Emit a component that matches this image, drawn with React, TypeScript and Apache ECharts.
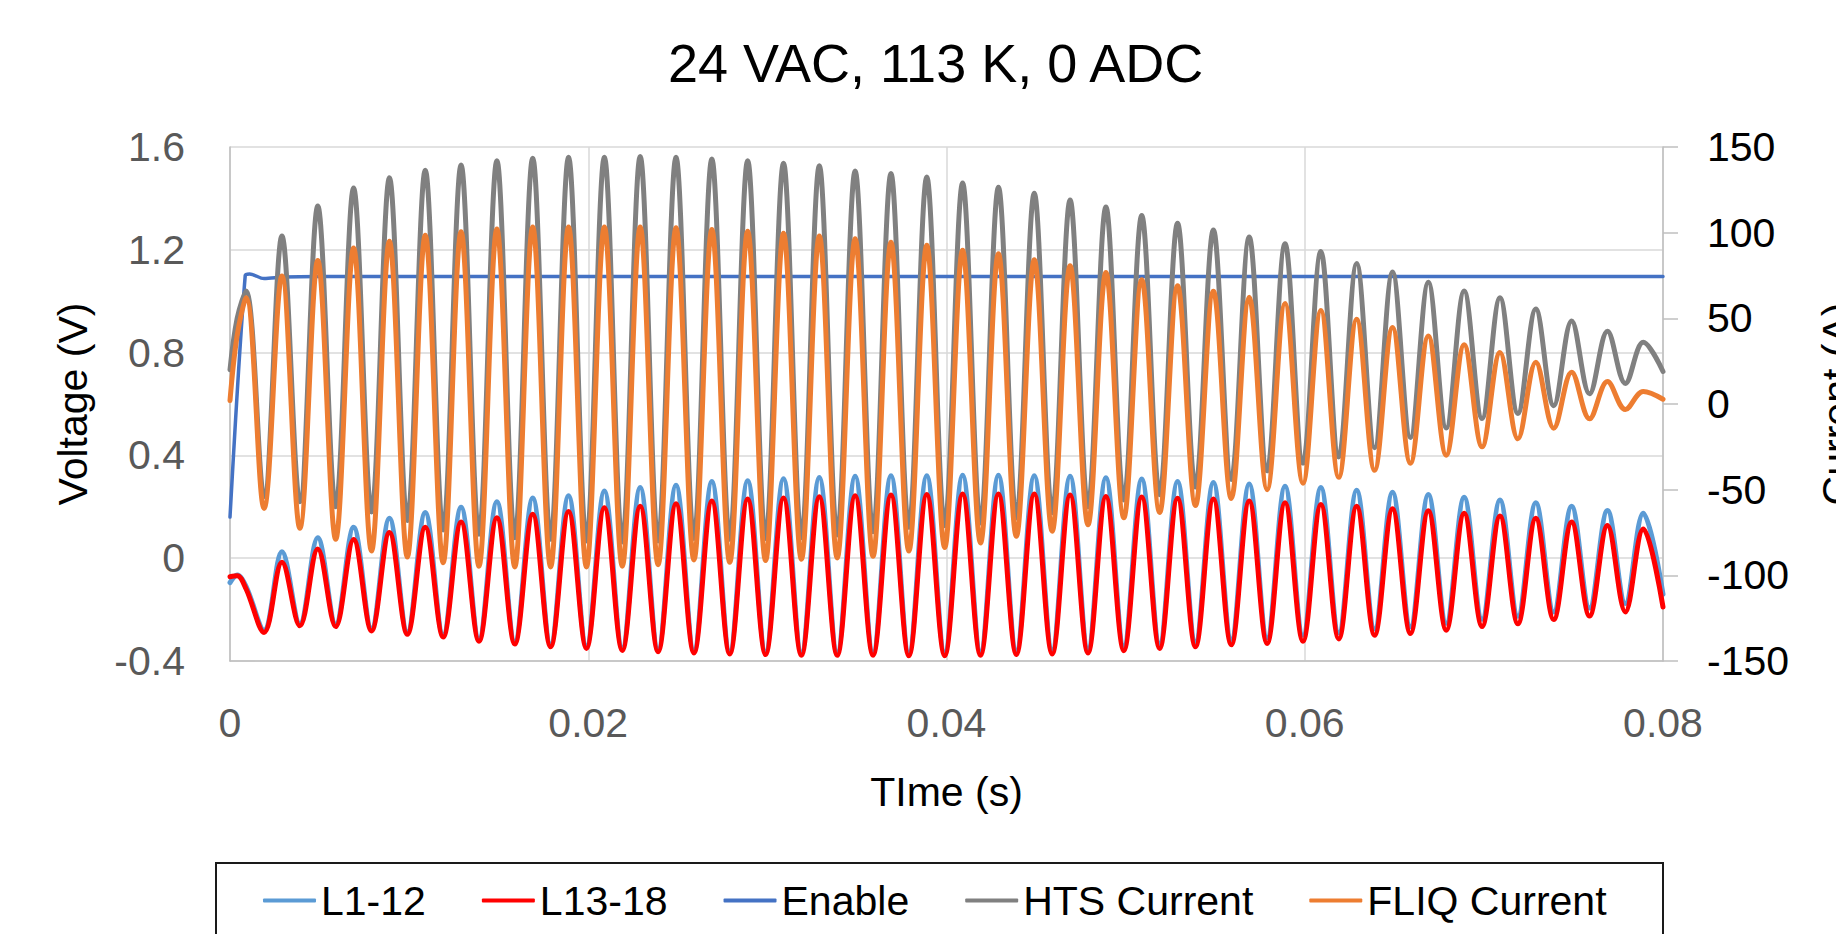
import React, { useEffect, useRef } from 'react';
import * as echarts from 'echarts';

const FONT = "'Liberation Sans', Arial, sans-serif";

const TITLE = '24 VAC, 113 K, 0 ADC';
const SERIES_NAMES = ['L1-12', 'L13-18', 'Enable', 'HTS Current', 'FLIQ Current'];
const COLORS = ['#5B9BD5', '#FF0000', '#4472C4', '#808080', '#ED7D31'];

// time stamps (s): start, then alternating peak / trough instants, then end
const TIME = [
  0, 0.0004, 0.0009, 0.0019, 0.0029, 0.0039, 0.0049, 0.0059, 0.0069, 0.0079, 0.0089, 0.0099,
  0.0109, 0.0119, 0.0129, 0.0139, 0.0149, 0.0159, 0.0169, 0.0179, 0.0189, 0.0199, 0.0209, 0.0219,
  0.0229, 0.0239, 0.0249, 0.0259, 0.0269, 0.0279, 0.0289, 0.0299, 0.0309, 0.0319, 0.0329, 0.0339,
  0.0349, 0.0359, 0.0369, 0.0379, 0.0389, 0.0399, 0.0409, 0.0419, 0.0429, 0.0439, 0.0449, 0.0459,
  0.0469, 0.0479, 0.0489, 0.0499, 0.0509, 0.0519, 0.0529, 0.0539, 0.0549, 0.0559, 0.0569, 0.0579,
  0.0589, 0.0599, 0.0609, 0.0619, 0.0629, 0.0639, 0.0649, 0.0659, 0.0669, 0.0679, 0.0689, 0.0699,
  0.0709, 0.0719, 0.0729, 0.0739, 0.0749, 0.0759, 0.0769, 0.0779, 0.0789, 0.08,
];

// L1-12 voltage (V)
const L1_12 = [
  -0.095, -0.065, -0.11, -0.28, 0.025, -0.255, 0.08, -0.257, 0.12, -0.274, 0.155, -0.287,
  0.178, -0.298, 0.198, -0.313, 0.22, -0.324, 0.234, -0.335, 0.243, -0.341, 0.261, -0.349,
  0.275, -0.354, 0.284, -0.358, 0.298, -0.362, 0.301, -0.364, 0.309, -0.366, 0.314, -0.366,
  0.319, -0.366, 0.321, -0.367, 0.321, -0.366, 0.323, -0.363, 0.323, -0.359, 0.321, -0.356,
  0.319, -0.351, 0.313, -0.341, 0.308, -0.332, 0.298, -0.325, 0.295, -0.316, 0.289, -0.31,
  0.28, -0.3, 0.275, -0.29, 0.264, -0.275, 0.257, -0.267, 0.248, -0.253, 0.237, -0.238,
  0.226, -0.226, 0.216, -0.209, 0.202, -0.194, 0.186, -0.176, 0.175, -0.14,
];

// L13-18 voltage (V)
const L13_18 = [
  -0.072, -0.068, -0.12, -0.289, -0.016, -0.263, 0.036, -0.266, 0.073, -0.283, 0.1, -0.296,
  0.12, -0.307, 0.141, -0.323, 0.157, -0.334, 0.171, -0.345, 0.182, -0.351, 0.196, -0.359,
  0.202, -0.364, 0.212, -0.369, 0.223, -0.373, 0.23, -0.375, 0.234, -0.378, 0.239, -0.378,
  0.243, -0.378, 0.246, -0.38, 0.248, -0.38, 0.25, -0.378, 0.25, -0.375, 0.25, -0.373,
  0.246, -0.369, 0.24, -0.36, 0.238, -0.351, 0.233, -0.345, 0.23, -0.337, 0.223, -0.332,
  0.216, -0.323, 0.209, -0.314, 0.202, -0.3, 0.192, -0.293, 0.185, -0.28, 0.175, -0.266,
  0.164, -0.255, 0.155, -0.239, 0.141, -0.225, 0.127, -0.209, 0.114, -0.19,
];

// HTS current (A)
const HTS = [
  20, 50, 66, -54, 98, -57, 115.5, -60, 126, -63, 132, -68,
  136.5, -73.5, 139.5, -76, 142, -78, 143.5, -79, 144, -80, 144, -80.5,
  144.5, -80, 144, -78.5, 143, -79, 142, -78.5, 140.5, -78, 139, -76.5,
  136, -74.5, 134.5, -72, 132.5, -71, 129, -69.5, 126.5, -66.5, 123, -63.5,
  119, -60, 115, -56, 110, -53, 105.5, -48.5, 101.5, -44, 97.5, -39,
  93.5, -34.5, 89, -31, 82, -25.5, 77, -19.5, 71, -14, 66, -8.5,
  62, -5.5, 55.5, -1, 48.5, 6, 42.5, 12, 36, 19,
];

// FLIQ current (A)
const FLIQ = [
  2, 40, 62, -61, 74.7, -72.5, 83.8, -79, 91, -85.8, 95, -89.3,
  98.5, -92.6, 100.6, -94.7, 102.2, -95.1, 103.3, -95.1, 103.3, -95.1, 103.3, -94.7,
  103.3, -93.8, 102.8, -91, 101.8, -92.4, 100.8, -91.4, 99.6, -90.6, 98.1, -89.9,
  96.5, -88.9, 94.4, -85.8, 92.6, -83.8, 89.7, -81.1, 87.7, -77.2, 84.2, -74.2,
  80.7, -70.5, 76.8, -66.4, 72.5, -63.3, 69, -59.2, 65.8, -55.1, 62.3, -50,
  58.6, -46.3, 54.5, -42.8, 49.4, -38.7, 44.7, -34.6, 39.7, -29.9, 34.6, -25,
  30.1, -20.3, 24.4, -14.1, 18.6, -8.6, 13.1, -3.2, 7.3, 2.8,
];

// Enable voltage (V)
const ENABLE_TIME = [0, 0.00085, 0.0011, 0.0019, 0.003, 0.005, 0.08];
const ENABLE = [0.16, 1.1, 1.106, 1.088, 1.094, 1.096, 1.096];

const X_TICKS = { min: 0, max: 0.08, interval: 0.02 };
const Y_LEFT = { min: -0.4, max: 1.6, interval: 0.4 };
const Y_RIGHT = { min: -150, max: 150, interval: 50 };

const pairs = (t: number[], v: number[]) => t.map((x, i) => [x, v[i]]);

export default function App() {
  const ref = useRef<HTMLDivElement>(null);
  useEffect(() => {
    const chart = echarts.init(ref.current!, null, { renderer: 'svg' });
    const waveSeries = (name: string, color: string, data: number[][], yAxisIndex: number, width: number) => ({
      name,
      type: 'line',
      data,
      yAxisIndex,
      smooth: 0.36,
      symbol: 'none',
      showSymbol: false,
      lineStyle: { color, width, cap: 'round', join: 'round' },
      itemStyle: { color },
      z: 2,
    });
    chart.setOption({
      animation: false,
      backgroundColor: '#ffffff',
      title: {
        text: TITLE,
        left: 668,
        top: 36,
        padding: 0,
        textStyle: { fontFamily: FONT, fontSize: 54, fontWeight: 'normal', color: '#000000' },
      },
      grid: { left: 230, top: 147, width: 1433, height: 514, containLabel: false },
      legend: {
        data: SERIES_NAMES.map((name) => ({ name, icon: 'roundRect' })),
        left: 263,
        top: 880,
        padding: 0,
        itemGap: 56,
        itemWidth: 53,
        itemHeight: 4,
        textStyle: { fontFamily: FONT, fontSize: 41, color: '#000000' },
      },
      xAxis: {
        type: 'value',
        ...X_TICKS,
        axisLine: { show: true, onZero: false, lineStyle: { color: '#BFBFBF', width: 1.5 } },
        axisTick: { show: false },
        splitLine: { show: true, lineStyle: { color: '#D9D9D9', width: 1.5 } },
        axisLabel: { fontFamily: FONT, fontSize: 41, color: '#595959', margin: 41 },
        name: 'TIme (s)',
        nameLocation: 'middle',
        nameGap: 110,
        nameTextStyle: { fontFamily: FONT, fontSize: 41, color: '#000000' },
      },
      yAxis: [
        {
          type: 'value',
          position: 'left',
          ...Y_LEFT,
          axisLine: { show: true, onZero: false, lineStyle: { color: '#BFBFBF', width: 1.5 } },
          axisTick: { show: false },
          splitLine: { show: true, lineStyle: { color: '#D9D9D9', width: 1.5 } },
          axisLabel: { fontFamily: FONT, fontSize: 41, color: '#595959', margin: 45 },
        },
        {
          type: 'value',
          position: 'right',
          ...Y_RIGHT,
          axisLine: { show: true, onZero: false, lineStyle: { color: '#BFBFBF', width: 1.5 } },
          axisTick: { show: true, inside: false, length: 15, lineStyle: { color: '#BFBFBF', width: 1.5 } },
          splitLine: { show: false },
          axisLabel: { fontFamily: FONT, fontSize: 41, color: '#000000', margin: 44 },
        },
      ],
      graphic: [
        {
          type: 'text',
          x: 73,
          y: 404,
          rotation: Math.PI / 2,
          style: {
            text: 'Voltage (V)',
            fontFamily: FONT,
            fontSize: 41,
            fill: '#000000',
            textAlign: 'center',
            textVerticalAlign: 'middle',
          },
        },
        {
          type: 'text',
          x: 1837,
          y: 404,
          rotation: Math.PI / 2,
          style: {
            text: 'Current (A)',
            fontFamily: FONT,
            fontSize: 41,
            fill: '#000000',
            textAlign: 'center',
            textVerticalAlign: 'middle',
          },
        },
        {
          type: 'rect',
          shape: { x: 216, y: 863, width: 1447, height: 120 },
          style: { fill: 'none', stroke: '#1a1a1a', lineWidth: 2 },
          silent: true,
        },
      ],
      series: [
        waveSeries(SERIES_NAMES[0], COLORS[0], pairs(TIME, L1_12), 0, 5),
        waveSeries(SERIES_NAMES[1], COLORS[1], pairs(TIME, L13_18), 0, 5),
        { ...waveSeries(SERIES_NAMES[2], COLORS[2], pairs(ENABLE_TIME, ENABLE), 0, 3.5), smooth: 0.3 },
        waveSeries(SERIES_NAMES[3], COLORS[3], pairs(TIME, HTS), 1, 5),
        waveSeries(SERIES_NAMES[4], COLORS[4], pairs(TIME, FLIQ), 1, 5),
      ],
    });
    return () => chart.dispose();
  }, []);
  return (
    <div
      ref={ref}
      style={{ position: 'fixed', left: 0, top: 0, width: 1836, height: 934, background: '#ffffff' }}
    />
  );
}
